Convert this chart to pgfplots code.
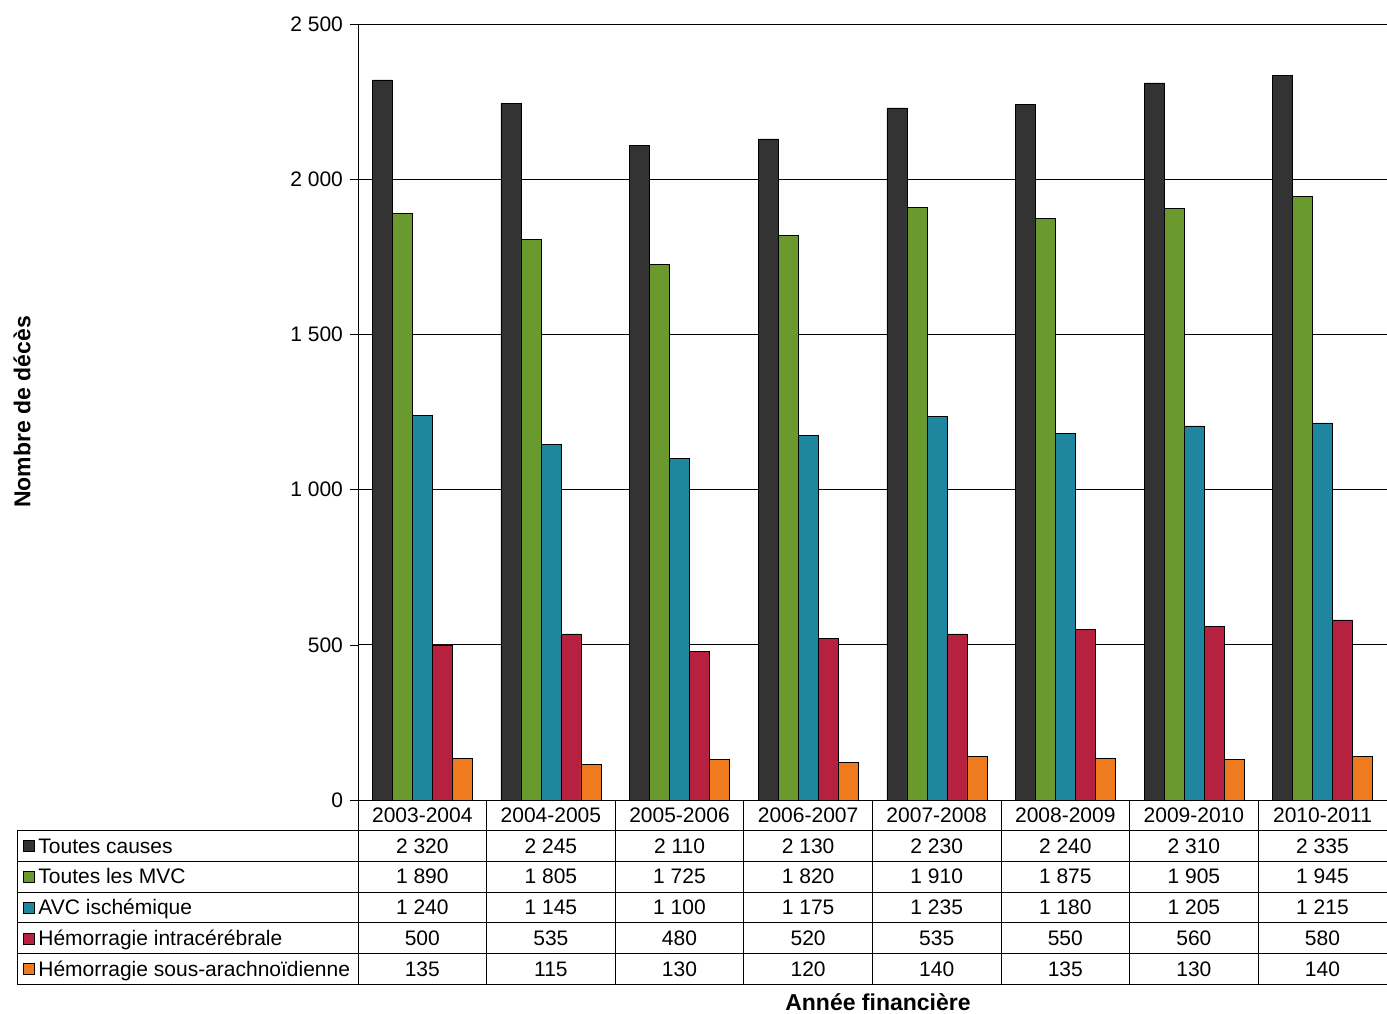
\documentclass[border=0pt]{standalone}
\usepackage{pgfplots}
\pgfplotsset{compat=1.18}
\usepackage{fontspec}
\setmainfont{Liberation Sans}
\definecolor{cA}{HTML}{333333}
\definecolor{cB}{HTML}{6A9A2E}
\definecolor{cC}{HTML}{1F86A0}
\definecolor{cD}{HTML}{B5213E}
\definecolor{cE}{HTML}{F07B1F}
\begin{document}
\begin{tikzpicture}[x=0.5pt,y=-0.5pt,font=\fontsize{10.5}{12}\selectfont]
\useasboundingbox (0,0) rectangle (1387,1013);
\begin{axis}[at={(179pt,-400pt)},anchor=south west,scale only axis,
 width=514.5pt,height=388pt,
 xmin=-0.5,xmax=7.5,ymin=0,ymax=2500,
 ybar=0pt,bar width=10pt,
 axis x line=none, axis y line*=left,
 ytick={0,500,...,2500},ymajorgrids,grid style={black,line width=0.5pt},
 tick style={black}, tick align=outside, major tick length=4pt,
 yticklabel style={/pgf/number format/1000 sep={\ },/pgf/number format/assume math mode=true,font=\fontsize{10.5}{12}\selectfont},
 clip=false]
\addplot[fill=cA,draw=black,line width=0.3pt] coordinates {(0,2320)(1,2245)(2,2110)(3,2130)(4,2230)(5,2240)(6,2310)(7,2335)};
\addplot[fill=cB,draw=black,line width=0.3pt] coordinates {(0,1890)(1,1805)(2,1725)(3,1820)(4,1910)(5,1875)(6,1905)(7,1945)};
\addplot[fill=cC,draw=black,line width=0.3pt] coordinates {(0,1240)(1,1145)(2,1100)(3,1175)(4,1235)(5,1180)(6,1205)(7,1215)};
\addplot[fill=cD,draw=black,line width=0.3pt] coordinates {(0,500)(1,535)(2,480)(3,520)(4,535)(5,550)(6,560)(7,580)};
\addplot[fill=cE,draw=black,line width=0.3pt] coordinates {(0,135)(1,115)(2,130)(3,120)(4,140)(5,135)(6,130)(7,140)};
\end{axis}
% table
\draw[line width=0.5pt] (358,800) -- (1387,800) -- (1387,984) -- (17,984) -- (17,830) -- (1387,830);
\foreach \yy in {861,892,922,953} \draw[line width=0.5pt] (17,\yy) -- (1387,\yy);
\foreach \i in {0,...,7} \draw[line width=0.5pt] ({358+128.6*\i},800) -- ({358+128.6*\i},984);
\foreach \lab [count=\i from 0] in {2003-2004,2004-2005,2005-2006,2006-2007,2007-2008,2008-2009,2009-2010,2010-2011}
  \node[anchor=base] at ({358+128.6*\i+64.3},822) {\lab};
\foreach \c/\t/\r in {cA/Toutes causes/0,cB/Toutes les MVC/1,cC/AVC ischémique/2,cD/Hémorragie intracérébrale/3,cE/Hémorragie sous-arachnoïdienne/4}{
  \fill[\c,draw=black,line width=0.3pt] (23,{840.5+30.8*\r}) rectangle +(11,11);
  \node[anchor=base west,inner sep=0] at (38,{853+30.8*\r}) {\t};}
\foreach \row [count=\r from 0] in {{2 320,2 245,2 110,2 130,2 230,2 240,2 310,2 335},{1 890,1 805,1 725,1 820,1 910,1 875,1 905,1 945},{1 240,1 145,1 100,1 175,1 235,1 180,1 205,1 215},{500,535,480,520,535,550,560,580},{135,115,130,120,140,135,130,140}}{
  \foreach \v [count=\i from 0] in \row
    \node[anchor=base] at ({358+128.6*\i+64.3},{853+30.8*\r}) {\v};}
\node[font=\fontsize{11.5}{13}\selectfont\bfseries] at (878,1002) {Année financière};
\node[font=\fontsize{11.5}{13}\selectfont\bfseries,rotate=90] at (22,412) {Nombre de décès};
\end{tikzpicture}
\end{document}
